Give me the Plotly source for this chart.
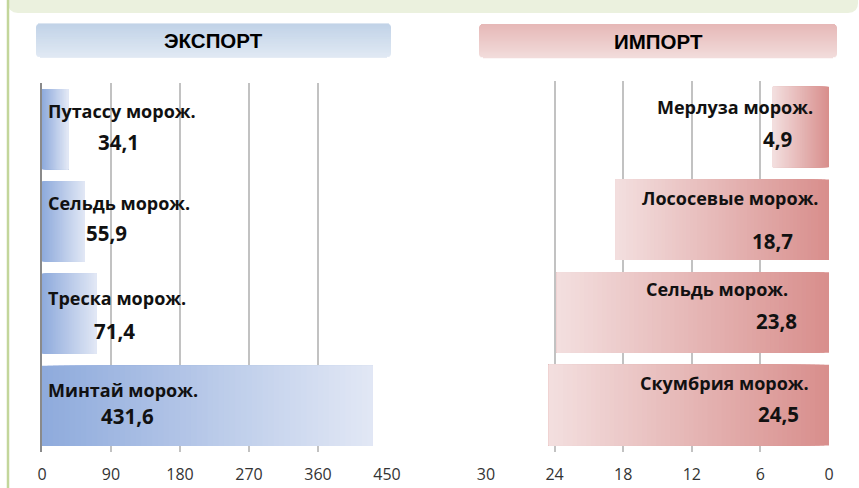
import plotly.graph_objects as go

# ---------------- data ----------------
export_names = ["Путассу морож.", "Сельдь морож.", "Треска морож.", "Минтай морож."]
export_values = [34.1, 55.9, 71.4, 431.6]
export_labels = ["34,1", "55,9", "71,4", "431,6"]

import_names = ["Мерлуза морож.", "Лососевые морож.", "Сельдь морож.", "Скумбрия морож."]
import_values = [4.9, 18.7, 23.8, 24.5]
import_labels = ["4,9", "18,7", "23,8", "24,5"]

export_ticks = [0, 90, 180, 270, 360, 450]
import_ticks = [30, 24, 18, 12, 6, 0]

# ---------------- styling ----------------
W, H = 859, 488
FONT = "Open Sans"

def px(x):
    return x / W

def py(y):
    return 1 - y / H

def hex2rgb(h):
    h = h.lstrip("#")
    return tuple(int(h[i:i + 2], 16) for i in (0, 2, 4))

def mix(c0, c1, t):
    a, b = hex2rgb(c0), hex2rgb(c1)
    return "rgb(%d,%d,%d)" % tuple(round(a[i] + (b[i] - a[i]) * t) for i in range(3))

N_SEG = 60

def gradient_bar(names, values, c_base, c_end, xa, ya):
    ys, bases, xs, cols = [], [], [], []
    for name, v in zip(names, values):
        for k in range(N_SEG):
            b = v * k / N_SEG
            ys.append(name)
            bases.append(b)
            xs.append(v - b)
            cols.append(mix(c_base, c_end, (k + 0.5) / N_SEG))
    return go.Bar(y=ys, x=xs, base=bases, orientation="h", width=0.87,
                  marker=dict(color=cols, line=dict(width=0)),
                  xaxis=xa, yaxis=ya, hoverinfo="skip", showlegend=False)

fig = go.Figure()
fig.add_trace(gradient_bar(export_names, export_values, "#8eaadc", "#e2e8f5", "x", "y"))
fig.add_trace(gradient_bar(import_names, import_values, "#d88e8c", "#f3dfdf", "x2", "y2"))

grid = "#c2c2c2"
tickfont = dict(family=FONT, size=16, color="#333333")

fig.update_layout(
    width=W, height=H,
    margin=dict(l=0, r=0, t=0, b=0, autoexpand=False),
    paper_bgcolor="white", plot_bgcolor="white",
    barmode="overlay",
    xaxis=dict(domain=[px(42), px(387)], range=[0, 450], tickvals=export_ticks,
               showgrid=True, gridcolor=grid, gridwidth=2, zeroline=False, automargin=False,
               showline=False, ticks="outside", ticklen=8, tickcolor="rgba(0,0,0,0)",
               tickfont=tickfont, anchor="y", fixedrange=True),
    yaxis=dict(domain=[py(452), py(83)], categoryorder="array", categoryarray=export_names,
               autorange="reversed", showticklabels=False, showgrid=False, zeroline=False,
               showline=True, linecolor="#8a8a8a", linewidth=2, anchor="x", ticks="",
               automargin=False, fixedrange=True),
    xaxis2=dict(domain=[px(486), px(829)], range=[30, 0], tickvals=import_ticks,
                showgrid=True, gridcolor=grid, gridwidth=2, zeroline=False, automargin=False,
                showline=False, ticks="outside", ticklen=8, tickcolor="rgba(0,0,0,0)",
                tickfont=tickfont, anchor="y2", fixedrange=True),
    yaxis2=dict(domain=[py(451.5), py(80.7)], categoryorder="array", categoryarray=import_names,
                autorange="reversed", showticklabels=False, showgrid=False, zeroline=False,
                showline=False, anchor="x2", ticks="", automargin=False, fixedrange=True),
)

# ---------------- labels inside bars ----------------
NAME_FONT = dict(family=FONT, size=18, color="#111111")
VAL_FONT = dict(family=FONT, size=20.5, color="#111111")

exp_name_dy = [18, 18, 16, 16]
exp_val_dx = [76, 64, 72, 85]
exp_val_dy = [-13, -12, -17, -10]
for i, (n, lab) in enumerate(zip(export_names, export_labels)):
    fig.add_annotation(x=0, y=n, xref="x", yref="y", text="<b>%s</b>" % n, showarrow=False,
                       xanchor="left", yanchor="middle", xshift=4, yshift=exp_name_dy[i], font=NAME_FONT)
    fig.add_annotation(x=0, y=n, xref="x", yref="y", text="<b>%s</b>" % lab, showarrow=False,
                       xanchor="center", yanchor="middle", xshift=exp_val_dx[i], yshift=exp_val_dy[i],
                       font=VAL_FONT)

imp_name_dx = [-14, -8, -39, -18]
imp_name_dy = [20, 22, 23, 22]
imp_val_dx = [-52, -57, -53, -51]
imp_val_dy = [-12, -21, -9, -9]
for i, (n, lab) in enumerate(zip(import_names, import_labels)):
    fig.add_annotation(x=0, y=n, xref="x2", yref="y2", text="<b>%s</b>" % n, showarrow=False,
                       xanchor="right", yanchor="middle", xshift=imp_name_dx[i], yshift=imp_name_dy[i],
                       font=NAME_FONT)
    fig.add_annotation(x=0, y=n, xref="x2", yref="y2", text="<b>%s</b>" % lab, showarrow=False,
                       xanchor="center", yanchor="middle", xshift=imp_val_dx[i], yshift=imp_val_dy[i],
                       font=VAL_FONT)

# ---------------- decoration: banner, border, headers ----------------
shapes = []
r = 10
x0, x1, y1 = 8, 858, 13
path = ("M %f,%f L %f,%f L %f,%f Q %f,%f %f,%f L %f,%f Q %f,%f %f,%f Z" % (
    px(x0), py(0), px(x1), py(0), px(x1), py(y1 - r), px(x1), py(y1), px(x1 - r), py(y1),
    px(x0 + r), py(y1), px(x0), py(y1), px(x0), py(y1 - r)))
shapes.append(dict(type="path", path=path, xref="paper", yref="paper",
                   fillcolor="#ebf1de", line=dict(width=0), layer="below"))
shapes.append(dict(type="line", xref="paper", yref="paper", x0=px(8), x1=px(8), y0=0, y1=1,
                   line=dict(color="#c3d69b", width=2.5)))


def header_box(bx0, bx1, by0, by1, ctop, cbot, rad=4):
    out = []
    n = int(round(by1 - by0))
    for k in range(n):
        d = k + 0.5
        dist = min(d, (by1 - by0) - d)
        inset = 0.0
        if dist < rad:
            inset = rad - (rad ** 2 - (rad - dist) ** 2) ** 0.5
        out.append(dict(type="rect", xref="paper", yref="paper",
                        x0=px(bx0 + inset), x1=px(bx1 - inset),
                        y0=py(by0 + k + 1.3), y1=py(by0 + k),
                        fillcolor=mix(ctop, cbot, k / max(n - 1, 1)), line=dict(width=0),
                        layer="below"))
    return out

shapes += header_box(36, 391, 23.5, 57, "#b8cce4", "#dce6f2")
shapes += header_box(479, 837, 24, 57.5, "#e6b8b7", "#f2dcdb")
fig.update_layout(shapes=shapes)

HEAD_FONT = dict(family="Liberation Sans", size=20.5, color="#000000")
fig.add_annotation(x=px(213.5), y=py(41), xref="paper", yref="paper", text="<b>ЭКСПОРТ</b>",
                   showarrow=False, xanchor="center", yanchor="middle", font=HEAD_FONT)
fig.add_annotation(x=px(658), y=py(41.5), xref="paper", yref="paper", text="<b>ИМПОРТ</b>",
                   showarrow=False, xanchor="center", yanchor="middle", font=HEAD_FONT)

fig.write_html("out.html", config={"displayModeBar": False, "responsive": False},
               post_script="document.body.style.margin='0';"
                           "document.documentElement.style.overflow='hidden';"
                           "document.body.style.overflow='hidden';")
